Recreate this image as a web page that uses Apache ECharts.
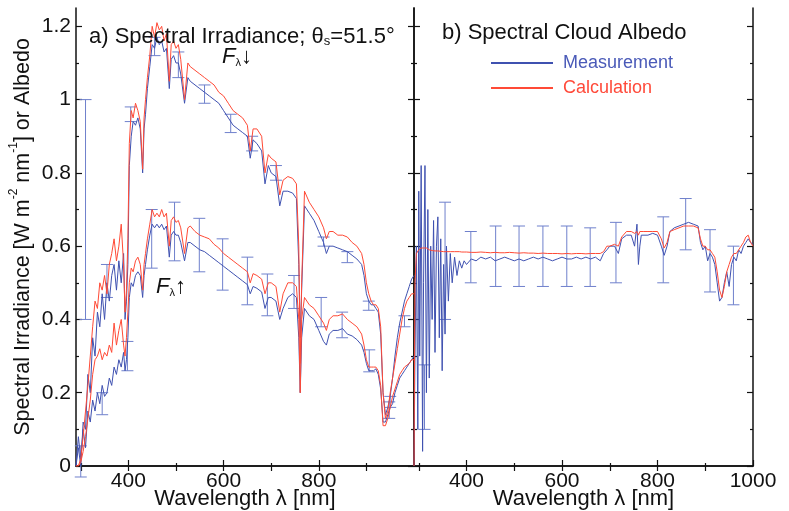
<!DOCTYPE html>
<html><head><meta charset="utf-8">
<script src="https://cdn.jsdelivr.net/npm/echarts@6/dist/echarts.min.js"></script>
<style>html,body{margin:0;padding:0;background:#fff}#c{width:789px;height:511px}</style>
</head><body><div id="c"></div>
<script>
// ---------- Data ----------
var wl = [290,295,300,305,310,315,320,325,330,335,340,345,350,355,360,365,370,375,380,385,390,393,396,399,402,406,410,415,420,425,430,433,436,440,445,450,455,460,465,470,475,480,486,490,495,500,505,510,518,525,530,540,550,560,570,580,590,600,610,620,630,640,650,656,662,670,680,687,694,700,710,718,725,735,745,753,758,761,764,770,780,790,800,810,816,822,830,840,850,860,870,880,890,895,900,905,910,915,920,925,930,935,940,945,950,955,960,965,970,975,980,985,990,995,1000];
var dnCalc = [0,0,0.02,0.08,0.15,0.22,0.3,0.38,0.45,0.43,0.5,0.48,0.52,0.47,0.55,0.58,0.62,0.56,0.6,0.66,0.55,0.42,0.48,0.62,0.88,0.97,0.95,0.99,0.97,0.94,0.81,0.95,1.0,1.06,1.12,1.2,1.17,1.21,1.19,1.2,1.16,1.18,1.05,1.15,1.16,1.14,1.15,1.11,1.0,1.1,1.09,1.08,1.07,1.06,1.05,1.04,1.02,1.01,0.99,0.97,0.96,0.95,0.93,0.86,0.92,0.92,0.9,0.8,0.85,0.84,0.83,0.74,0.78,0.79,0.785,0.77,0.6,0.28,0.5,0.75,0.72,0.7,0.68,0.65,0.62,0.64,0.64,0.63,0.63,0.625,0.61,0.6,0.58,0.55,0.5,0.47,0.45,0.44,0.44,0.43,0.38,0.2,0.13,0.15,0.2,0.24,0.28,0.32,0.36,0.4,0.43,0.45,0.46,0.47,0.47];
var dnMeas = [0,0.05,0,0.12,0.1,0.25,0.2,0.35,0.3,0.42,0.38,0.47,0.4,0.5,0.45,0.52,0.55,0.48,0.56,0.5,0.58,0.4,0.45,0.55,0.82,0.9,0.94,0.93,0.95,0.92,0.8,0.92,0.96,1.03,1.09,1.15,1.14,1.17,1.15,1.16,1.13,1.14,1.03,1.11,1.12,1.1,1.1,1.07,0.99,1.06,1.05,1.04,1.03,1.02,1.01,1.0,0.99,0.97,0.95,0.93,0.92,0.91,0.9,0.84,0.89,0.88,0.86,0.77,0.82,0.8,0.79,0.71,0.75,0.75,0.745,0.73,0.55,0.35,0.48,0.71,0.69,0.67,0.64,0.61,0.58,0.6,0.6,0.595,0.59,0.585,0.575,0.565,0.55,0.52,0.47,0.45,0.44,0.44,0.43,0.42,0.36,0.2,0.14,0.16,0.19,0.24,0.3,0.35,0.39,0.42,0.45,0.47,0.49,0.51,0.52];
var upCalc = [0,0,0.01,0.04,0.08,0.13,0.18,0.25,0.29,0.3,0.32,0.29,0.31,0.3,0.33,0.31,0.39,0.33,0.37,0.4,0.33,0.3,0.35,0.42,0.5,0.54,0.53,0.56,0.57,0.55,0.48,0.55,0.58,0.62,0.66,0.7,0.68,0.69,0.68,0.7,0.68,0.69,0.6,0.67,0.68,0.665,0.67,0.65,0.58,0.65,0.655,0.64,0.63,0.625,0.62,0.605,0.595,0.58,0.57,0.56,0.55,0.54,0.53,0.5,0.525,0.52,0.51,0.47,0.5,0.5,0.49,0.42,0.47,0.5,0.5,0.49,0.4,0.2,0.4,0.46,0.44,0.43,0.41,0.39,0.37,0.4,0.41,0.41,0.415,0.4,0.39,0.38,0.36,0.33,0.29,0.27,0.27,0.27,0.27,0.26,0.22,0.11,0.11,0.13,0.16,0.19,0.21,0.23,0.25,0.26,0.27,0.275,0.28,0.29,0.29];
var upMeas = [0,0.08,0.02,0.1,0.05,0.15,0.12,0.18,0.15,0.2,0.17,0.22,0.19,0.2,0.24,0.22,0.27,0.25,0.29,0.27,0.31,0.26,0.29,0.35,0.46,0.5,0.49,0.52,0.53,0.52,0.46,0.52,0.55,0.59,0.63,0.66,0.65,0.66,0.65,0.66,0.645,0.655,0.57,0.63,0.64,0.63,0.63,0.61,0.56,0.61,0.61,0.6,0.59,0.585,0.575,0.565,0.555,0.545,0.535,0.525,0.515,0.505,0.495,0.47,0.49,0.485,0.475,0.43,0.46,0.46,0.45,0.4,0.43,0.46,0.47,0.46,0.35,0.2,0.35,0.43,0.41,0.4,0.37,0.34,0.33,0.36,0.37,0.37,0.375,0.36,0.355,0.345,0.33,0.31,0.28,0.26,0.26,0.26,0.265,0.25,0.21,0.12,0.12,0.14,0.16,0.17,0.2,0.22,0.24,0.25,0.26,0.27,0.28,0.29,0.3];

var albWl = [290,292,295,298,300,302,305,308,310,313,316,319,322,325,328,331,334,337,340,343,346,349,352,355,358,362,366,370,375,380,385,390,395,400,410,420,430,440,450,460,470,480,490,500,510,520,530,540,550,560,570,580,590,600,610,620,630,640,650,660,670,680,687,694,700,710,718,725,735,745,752,757,760,763,766,770,780,790,800,808,814,820,826,835,845,855,865,875,885,890,895,900,905,910,915,920,925,930,935,940,945,950,955,960,965,970,975,980,985,990,995,1000];
var albMeas = [0,0.3,0.6,0.1,0.75,0.3,0.82,0.04,0.5,0.82,0.2,0.7,0.24,0.6,0.4,0.67,0.31,0.6,0.68,0.35,0.62,0.26,0.55,0.36,0.6,0.45,0.58,0.5,0.57,0.52,0.56,0.54,0.56,0.55,0.565,0.56,0.57,0.565,0.57,0.56,0.565,0.57,0.565,0.56,0.565,0.56,0.565,0.57,0.565,0.57,0.565,0.56,0.565,0.57,0.565,0.565,0.57,0.565,0.57,0.565,0.57,0.56,0.58,0.59,0.6,0.6,0.58,0.62,0.63,0.63,0.6,0.66,0.55,0.6,0.63,0.635,0.63,0.635,0.63,0.6,0.575,0.6,0.64,0.65,0.655,0.66,0.665,0.66,0.655,0.61,0.59,0.6,0.56,0.58,0.57,0.55,0.5,0.45,0.46,0.5,0.53,0.49,0.55,0.57,0.56,0.59,0.58,0.6,0.61,0.62,0.61,0.605];
var albCalc = [0,0.5,0.58,0.585,0.59,0.592,0.595,0.595,0.595,0.595,0.595,0.59,0.59,0.588,0.588,0.588,0.587,0.587,0.587,0.586,0.586,0.586,0.585,0.585,0.585,0.585,0.585,0.585,0.585,0.585,0.585,0.584,0.584,0.584,0.583,0.583,0.584,0.583,0.582,0.583,0.582,0.582,0.583,0.582,0.581,0.582,0.581,0.581,0.58,0.581,0.58,0.58,0.58,0.579,0.58,0.579,0.58,0.58,0.579,0.58,0.58,0.58,0.585,0.6,0.6,0.605,0.6,0.625,0.64,0.64,0.635,0.64,0.63,0.64,0.64,0.64,0.64,0.64,0.64,0.62,0.595,0.61,0.64,0.645,0.65,0.655,0.655,0.655,0.65,0.62,0.6,0.6,0.59,0.59,0.58,0.57,0.53,0.48,0.46,0.49,0.53,0.55,0.57,0.58,0.58,0.59,0.6,0.61,0.625,0.63,0.61,0.6];

// error bars: wavelength, low, high
var errDnWl = [310,355,405,455,505,560,615,660,710,810,860,905,950,980];
var errDnLo = [0.4,0.46,0.94,1.12,1.06,0.99,0.91,0.86,0.78,0.6,0.555,0.425,0.16,0.38];
var errDnHi = [1.0,0.55,0.98,1.17,1.13,1.04,0.96,0.9,0.82,0.625,0.585,0.45,0.19,0.41];
var errUpWl = [300,345,398,449,497,549,598,650,692,748,805,849,906,948];
var errUpLo = [-0.03,0.14,0.26,0.54,0.56,0.53,0.48,0.44,0.41,0.43,0.38,0.35,0.257,0.13];
var errUpHi = [0.055,0.2,0.34,0.70,0.72,0.676,0.62,0.57,0.524,0.52,0.46,0.42,0.317,0.175];
var errAlbWl = [312,355,409,461,510,560,610,659,713,812,859,910,959];
var errAlbLo = [0.1,0.4,0.5,0.49,0.49,0.49,0.49,0.49,0.5,0.5,0.59,0.475,0.44];
var errAlbHi = [0.276,0.72,0.64,0.655,0.655,0.655,0.655,0.65,0.665,0.68,0.73,0.645,0.6];

var yMajor = [0,0.2,0.4,0.6,0.8,1,1.2];
var yMinor = [0.1,0.3,0.5,0.7,0.9,1.1];
var xLabelsA = [400,600,800];
var xLabelsB = [400,600,800,1000];
var xMinor = [300,500,700,900];
var xTop = [300,400,500,600,700,800,900];

// ---------- styling ----------
var BLUE = '#3f51b0', RED = '#ff4a36', ERR = '#6f80cc';
var FONT = 'Liberation Sans, Arial, Helvetica, sans-serif';
function pairs(x, y){ return x.map(function(v,i){ return [v, y[i]]; }); }
function triples(x, lo, hi){ return x.map(function(v,i){ return [v, lo[i], hi[i]]; }); }
function errRender(params, api){
  var x = api.value(0), lo = api.value(1), hi = api.value(2);
  var p1 = api.coord([x, lo]), p2 = api.coord([x, hi]);
  var w = 6, st = {stroke: ERR, lineWidth: 1};
  return {type:'group', children:[
    {type:'line', shape:{x1:p1[0],y1:p1[1],x2:p2[0],y2:p2[1]}, style:st},
    {type:'line', shape:{x1:p1[0]-w,y1:p1[1],x2:p1[0]+w,y2:p1[1]}, style:st},
    {type:'line', shape:{x1:p2[0]-w,y1:p2[1],x2:p2[0]+w,y2:p2[1]}, style:st}
  ]};
}
var axisLine = {show:true, lineStyle:{color:'#111', width:1.5}};
function fmt(v){ return String(v); }
function xAx(grid, pos, ticks, len, labels, name, line){
  return {type:'value', gridIndex:grid, position:pos, min:290, max:1000,
    axisLine: line ? axisLine : {show:false},
    axisTick:{show:true, inside:true, length:len, customValues:ticks, lineStyle:{color:'#111', width:1.2}},
    axisLabel: labels ? {show:true, customValues:labels, formatter:fmt, margin:5, color:'#111', fontSize:21, fontFamily:FONT} : {show:false},
    splitLine:{show:false},
    name: name || '', nameLocation:'middle', nameGap:22, nameMoveOverlap:false,
    nameTextStyle:{color:'#111', fontSize:22, fontFamily:FONT}};
}
function yAx(grid, pos, ticks, len, labels, line, nameObj){
  var o = {type:'value', gridIndex:grid, position:pos, min:0, max:1.25,
    axisLine: line ? axisLine : {show:false},
    axisTick:{show:true, inside:true, length:len, customValues:ticks, lineStyle:{color:'#111', width:1.2}},
    axisLabel: labels ? {show:true, customValues:labels, formatter:fmt, margin:5, color:'#111', fontSize:21, fontFamily:FONT} : {show:false},
    splitLine:{show:false}};
  if (nameObj) { for (var k in nameObj) o[k] = nameObj[k]; }
  return o;
}
var yName = {
  name:'{a|Spectral Irradiance [W m}{s|-2}{a| nm}{s|-1}{a|] or Albedo}',
  nameLocation:'middle', nameGap:42, nameMoveOverlap:false,
  nameTextStyle:{color:'#111', fontFamily:FONT, fontSize:21.5,
    rich:{a:{fontSize:21.5, fontFamily:FONT, color:'#111', lineHeight:26, verticalAlign:'bottom'},
          s:{fontSize:12, fontFamily:FONT, color:'#111', lineHeight:26, verticalAlign:'top'}}}
};

function line(name, xi, yi, data, color){
  return {type:'line', name:name, xAxisIndex:xi, yAxisIndex:yi, data:data, showSymbol:false, symbol:'none',
    lineStyle:{color:color, width:1}, itemStyle:{color:color}, animation:false, silent:true};
}
function errS(xi, yi, data){
  return {type:'custom', xAxisIndex:xi, yAxisIndex:yi, data:data, renderItem:errRender,
    encode:{x:0, y:[1,2]}, clip:false, animation:false, silent:true, z:1};
}

var chart = echarts.init(document.getElementById('c'), null, {renderer:'canvas'});
chart.setOption({
  backgroundColor:'#fff',
  animation:false,
  grid:[{left:76, top:8, width:338, height:458, outerBoundsMode:'none', containLabel:false},
        {left:414, top:8, width:339, height:458, outerBoundsMode:'none', containLabel:false}],
  xAxis:[
    xAx(0,'bottom',xLabelsA,6,xLabelsA,'Wavelength λ [nm]',true),
    xAx(0,'bottom',xMinor,3,null,'',false),
    xAx(0,'top',xTop,5,null,'',true),
    xAx(1,'bottom',xLabelsB,6,xLabelsB,'Wavelength λ [nm]',true),
    xAx(1,'bottom',xMinor,3,null,'',false),
    xAx(1,'top',xTop,5,null,'',true)
  ],
  yAxis:[
    yAx(0,'left',yMajor,6,yMajor,true,yName),
    yAx(0,'left',yMinor,3,null,false),
    yAx(0,'right',yMajor,6,null,true),
    yAx(0,'right',yMinor,3,null,false),
    yAx(1,'left',yMajor,6,null,true),
    yAx(1,'left',yMinor,3,null,false),
    yAx(1,'right',yMajor,6,null,true),
    yAx(1,'right',yMinor,3,null,false)
  ],
  legend:{show:true, orient:'vertical', left:486, top:49, itemWidth:62, itemHeight:2, itemGap:7, icon:'rect',
    selectedMode:false, textStyle:{fontSize:18, fontFamily:FONT, padding:[0,0,0,5]},
    data:[{name:'Measurement', textStyle:{color:'#4a5ab8'}},{name:'Calculation', textStyle:{color:'#ff4a3a'}}]},
  title:[
    {left:84, top:17, text:'{t|a) Spectral Irradiance; θ}{s|s}{t|=51.5°}',
      textStyle:{fontWeight:'normal', rich:{
        t:{fontSize:22, fontFamily:FONT, color:'#111', fontWeight:'normal', lineHeight:26, verticalAlign:'bottom'},
        s:{fontSize:13, fontFamily:FONT, color:'#111', fontWeight:'normal', lineHeight:22, verticalAlign:'bottom'}}}},
    {left:437, top:17, text:'b) Spectral Cloud Albedo', textStyle:{fontSize:22, fontFamily:FONT, color:'#111', fontWeight:'normal'}}
  ],
  graphic:[
    {type:'text', left:222, top:46, silent:true, style:{text:'{f|F}{l|λ}{a|↓}',
      rich:{f:{fontSize:22, fontStyle:'italic', fontFamily:FONT, fill:'#111', lineHeight:26, verticalAlign:'bottom'},
            l:{fontSize:11, fontFamily:FONT, fill:'#111', lineHeight:22, verticalAlign:'bottom'},
            a:{fontSize:22, fontFamily:FONT, fill:'#111', lineHeight:26, verticalAlign:'bottom'}}}},
    {type:'text', left:156, top:276, silent:true, style:{text:'{f|F}{l|λ}{a|↑}',
      rich:{f:{fontSize:22, fontStyle:'italic', fontFamily:FONT, fill:'#111', lineHeight:26, verticalAlign:'bottom'},
            l:{fontSize:11, fontFamily:FONT, fill:'#111', lineHeight:22, verticalAlign:'bottom'},
            a:{fontSize:22, fontFamily:FONT, fill:'#111', lineHeight:26, verticalAlign:'bottom'}}}}
  ],
  series:[
    errS(0,0,triples(errDnWl,errDnLo,errDnHi)),
    errS(0,0,triples(errUpWl,errUpLo,errUpHi)),
    errS(3,4,triples(errAlbWl,errAlbLo,errAlbHi)),
    line('Measurement',0,0,pairs(wl,dnMeas),BLUE),
    line('Measurement',0,0,pairs(wl,upMeas),BLUE),
    line('Calculation',0,0,pairs(wl,dnCalc),RED),
    line('Calculation',0,0,pairs(wl,upCalc),RED),
    line('Measurement',3,4,pairs(albWl,albMeas),BLUE),
    line('Calculation',3,4,pairs(albWl,albCalc),RED)
  ]
});
</script>
</body></html>
